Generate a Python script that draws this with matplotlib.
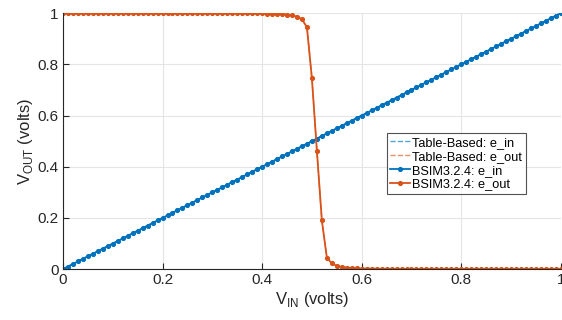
import numpy as np
import matplotlib.pyplot as plt

plt.rcParams['font.family'] = ['Liberation Sans', 'DejaVu Sans']
plt.rcParams['mathtext.fontset'] = 'custom'
plt.rcParams['mathtext.rm'] = 'Liberation Sans'

# input sweep, 0..1 V in 10 mV steps
vin = np.round(np.arange(0, 101) * 0.01, 2)

# e_in just follows the sweep
e_in = vin.copy()

# e_out
e_out = np.array([
    1.0, 1.0, 1.0, 1.0, 1.0, 1.0, 1.0, 1.0, 1.0, 1.0,
    1.0, 1.0, 1.0, 1.0, 1.0, 1.0, 1.0, 1.0, 1.0, 1.0,
    1.0, 1.0, 1.0, 1.0, 1.0, 1.0, 1.0, 1.0, 1.0, 1.0,
    1.0, 1.0, 1.0, 1.0, 1.0, 1.0, 1.0, 1.0, 0.999, 0.999,
    0.999, 0.998, 0.998, 0.997, 0.996, 0.994, 0.991, 0.986, 0.976, 0.945,
    0.745, 0.462, 0.19, 0.045, 0.022, 0.013, 0.008, 0.006, 0.004, 0.003,
    0.002, 0.002, 0.002, 0.001, 0.001, 0.001, 0.001, 0.001, 0.001, 0.0,
    0.0, 0.0, 0.0, 0.0, 0.0, 0.0, 0.0, 0.0, 0.0, 0.0,
    0.0, 0.0, 0.0, 0.0, 0.0, 0.0, 0.0, 0.0, 0.0, 0.0,
    0.0, 0.0, 0.0, 0.0, 0.0, 0.0, 0.0, 0.0, 0.0, 0.0,
    0.0,
])

blue = '#0072BD'
orange = '#D95319'

fig = plt.figure(figsize=(5.62, 3.2), dpi=100)
ax = fig.add_axes([0.112, 0.159, 0.886, 0.8])

ax.plot(vin, e_in, '--', color='#4DA6DB', lw=1, label='Table-Based: e_in')
ax.plot(vin, e_out, '--', color='#E8906A', lw=1, label='Table-Based: e_out')
ax.plot(vin, e_in, '-', color=blue, lw=1.3, marker='o', ms=2.7, label='BSIM3.2.4: e_in')
ax.plot(vin, e_out, '-', color=orange, lw=1.3, marker='o', ms=2.7, label='BSIM3.2.4: e_out')

ax.set_xlim(0, 1)
ax.set_ylim(0, 1)
ax.set_xticks([0, 0.2, 0.4, 0.6, 0.8, 1])
ax.set_xticklabels(['0', '0.2', '0.4', '0.6', '0.8', '1'])
ax.set_yticks([0, 0.2, 0.4, 0.6, 0.8, 1])
ax.set_yticklabels(['0', '0.2', '0.4', '0.6', '0.8', '1'])
ax.grid(True, color='#e5e5e5', lw=0.8)
ax.set_axisbelow(True)
for s in ['top', 'right']:
    ax.spines[s].set_visible(False)
for s in ['left', 'bottom']:
    ax.spines[s].set_color('#262626')
    ax.spines[s].set_linewidth(0.8)
ax.tick_params(direction='in', length=4, labelsize=11, colors='#262626', pad=3)

ax.set_xlabel('V$_{\\mathrm{IN}}$ (volts)', fontsize=12, color='#262626', labelpad=2)
ax.set_ylabel('V$_{\\mathrm{OUT}}$ (volts)', fontsize=12, color='#262626', labelpad=2)

leg = ax.legend(loc='upper left', bbox_to_anchor=(0.65, 0.532), fontsize=9.2,
                frameon=True, fancybox=False, handlelength=1.5, handletextpad=0.2,
                borderpad=0.3, labelspacing=0.15, borderaxespad=0)
leg.get_frame().set_edgecolor('#262626')
leg.get_frame().set_linewidth(0.8)

plt.savefig('out.png', dpi=100)
plt.close()
